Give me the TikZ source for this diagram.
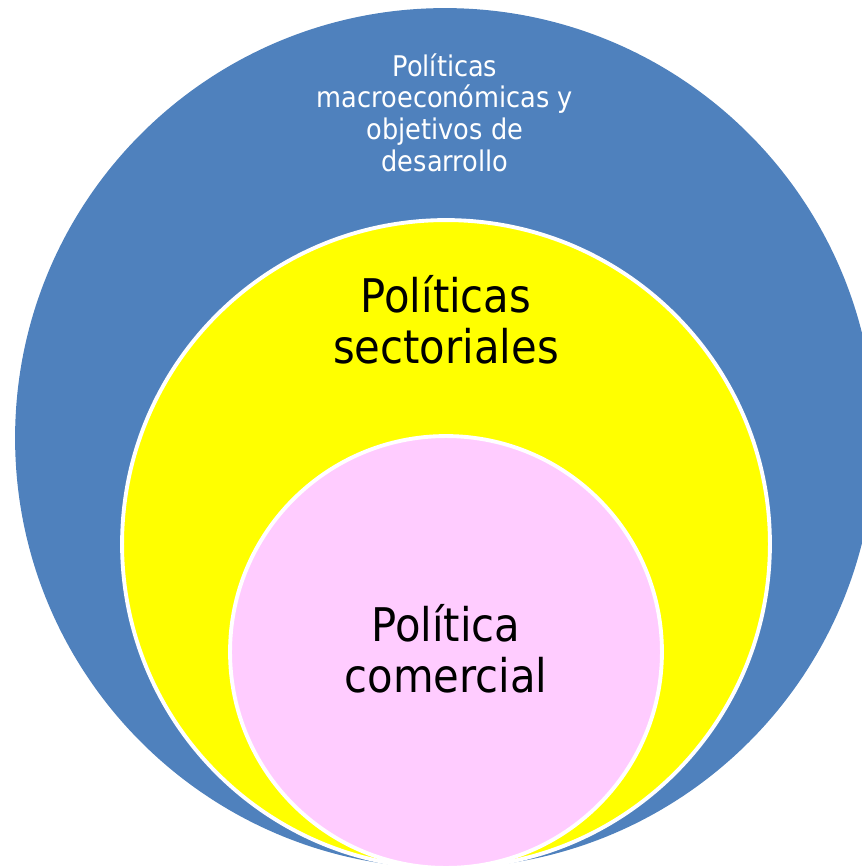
\documentclass[tikz,border=0pt]{standalone}
\usepackage{fontspec}
\setmainfont{DejaVu Sans Condensed}
\usetikzlibrary{positioning}

\definecolor{macroblue}{RGB}{79,129,189}
\definecolor{sectoryellow}{RGB}{255,255,0}
\definecolor{tradepink}{RGB}{255,204,255}

\begin{document}
\begin{tikzpicture}[x=0.02cm, y=-0.02cm,
    ring/.style={circle, inner sep=0pt, outer sep=0pt},
    ringedge/.style={ring, draw=white, line width=2.2pt},
    smalltext/.style={text=white, inner sep=0pt, align=center,
      font=\fontsize{16.2}{18.1}\selectfont},
    bigtext/.style={text=black, inner sep=0pt, align=center,
      font=\fontsize{26.4}{28.9}\selectfont}]
  \clip (0,0) rectangle (862,866);
  % the three nested circles, touching at the bottom
  \node[ring, fill=macroblue, minimum size=17.2cm] (macro) at (445,438) {};
  \node[ringedge, fill=sectoryellow, minimum size=12.96cm] (sector) at (446,544) {};
  \node[ringedge, fill=tradepink, minimum size=8.64cm] (trade) at (446,652) {};
  % labels
  \node[smalltext, below=0.9cm of macro.north] (macrolabel)
    {Políticas\\macroeconómicas y\\objetivos de\\desarrollo};
  \node[bigtext, below=1.1cm of sector.north] (sectorlabel)
    {Políticas\\sectoriales};
  \node[bigtext, below=3.36cm of trade.north] (tradelabel)
    {Política\\comercial};
\end{tikzpicture}
\end{document}
